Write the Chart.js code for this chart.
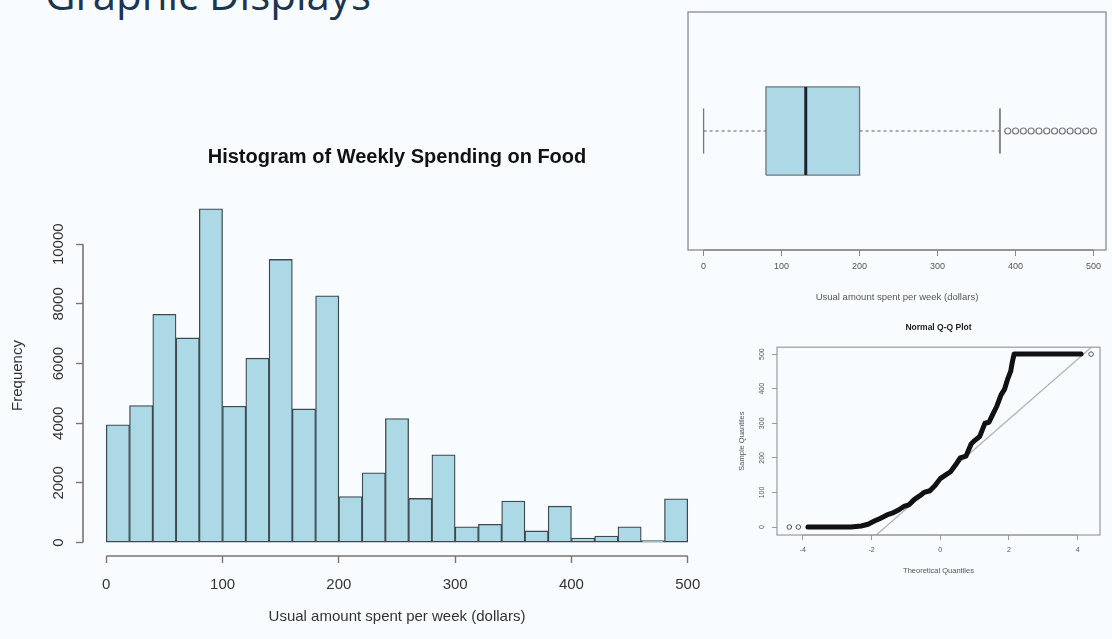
<!DOCTYPE html>
<html>
<head>
<meta charset="utf-8">
<title>Graphic Displays</title>
<script src="https://cdn.jsdelivr.net/npm/chart.js@4.4.0/dist/chart.umd.min.js"></script>
<style>
  html, body { margin: 0; padding: 0; }
  body { width: 1112px; height: 639px; overflow: hidden; position: relative; background: #f8fcfe; }
  .slide-title { position: absolute; left: 45px; top: -35px; font-family: "Open Sans", sans-serif; font-size: 42px; color: #1c3550; white-space: nowrap; }
  canvas { position: absolute; }
  #hist { left: 0; top: 140px; }
  #box { left: 680px; top: 0; }
  #qq { left: 720px; top: 318px; }
</style>
</head>
<body>
<div class="slide-title">Graphic Displays</div>
<canvas id="hist" width="720" height="499"></canvas>
<canvas id="box" width="432" height="310"></canvas>
<canvas id="qq" width="392" height="280"></canvas>
<script>
// histogram: 20-dollar bins
const binLows = [0, 20, 40, 60, 80, 100, 120, 140, 160, 180, 200, 220, 240, 260, 280, 300, 320, 340, 360, 380, 400, 420, 440, 460, 480];
const binWidth = 20;
const counts = [3950, 4590, 7650, 6860, 11190, 4570, 6180, 9490, 4480, 8270, 1540, 2340, 4160, 1480, 2940, 530, 610, 1390, 390, 1220, 150, 220, 530, 70, 1470];
const histXTicks = [0, 100, 200, 300, 400, 500];
const histYTicks = [0, 2000, 4000, 6000, 8000, 10000];

// boxplot: min, q1, median, q3, upper whisker
const boxFive = [0, 80, 131, 200, 380];
const boxOutliers = [390, 400, 410, 420, 430, 440, 450, 460, 470, 480, 490, 500];
const boxXTicks = [0, 100, 200, 300, 400, 500];

// normal q-q plot
const qqTheo = [-3.85, -3.2, -2.6, -2.3, -2.1, -1.9, -1.75, -1.55, -1.4, -1.2, -1.05, -0.9, -0.75, -0.6, -0.47, -0.3, -0.15, 0.0, 0.15, 0.3, 0.45, 0.58, 0.75, 0.9, 1.0, 1.15, 1.3, 1.42, 1.55, 1.65, 1.77, 1.87, 1.97, 2.05, 2.1, 2.15, 2.6, 3.2, 3.7, 4.1];
const qqSample = [0, 0, 0, 3, 8, 18, 25, 35, 40, 50, 60, 65, 80, 90, 100, 105, 120, 140, 150, 160, 180, 200, 205, 240, 250, 262, 300, 303, 330, 350, 382, 398, 430, 450, 478, 500, 500, 500, 500, 500];
const qqTailTheo = [-4.39, -4.13, 4.39];
const qqTailSample = [0, 0, 500];
const qqRefTheo = [-1.86, 4.4];
const qqRefSample = [-23, 520];
const qqXTicks = [-4, -2, 0, 2, 4];
const qqYTicks = [0, 100, 200, 300, 400, 500];

const rFont = '"Liberation Sans", Arial, sans-serif';

// R style axis lines (only between first and last tick) and optional box()
const rAxes = {
  id: 'rAxes',
  afterDraw(chart, args, opts) {
    const { ctx, chartArea: a, scales } = chart;
    ctx.save();
    ctx.strokeStyle = opts.color;
    ctx.lineWidth = opts.width;
    if (opts.frame) {
      ctx.strokeRect(a.left, a.top, a.right - a.left, a.bottom - a.top);
    }
    const x = scales.x;
    const xt = x.ticks;
    ctx.beginPath();
    ctx.moveTo(x.getPixelForValue(xt[0].value), a.bottom);
    ctx.lineTo(x.getPixelForValue(xt[xt.length - 1].value), a.bottom);
    if (opts.yLine) {
      const y = scales.y;
      const yt = y.ticks;
      ctx.moveTo(a.left, y.getPixelForValue(yt[0].value));
      ctx.lineTo(a.left, y.getPixelForValue(yt[yt.length - 1].value));
    }
    ctx.stroke();
    ctx.restore();
  }
};

// y tick labels turned 90 degrees, like R's default
const rotatedYLabels = {
  id: 'rotatedYLabels',
  afterDraw(chart, args, opts) {
    const y = chart.scales.y;
    const ctx = chart.ctx;
    ctx.save();
    ctx.font = opts.font;
    ctx.fillStyle = opts.color;
    ctx.textAlign = 'center';
    ctx.textBaseline = 'middle';
    y.ticks.forEach(t => {
      ctx.save();
      ctx.translate(chart.chartArea.left - opts.offset, y.getPixelForValue(t.value));
      ctx.rotate(-Math.PI / 2);
      ctx.fillText(String(t.value), 0, 0);
      ctx.restore();
    });
    ctx.restore();
  }
};

function setTicks(list) {
  return scale => { scale.ticks = list.map(v => ({ value: v })); };
}

new Chart(document.getElementById('hist'), {
  type: 'bar',
  data: {
    datasets: [{
      data: counts.map((c, i) => ({ x: binLows[i] + binWidth / 2, y: c })),
      backgroundColor: '#add8e6',
      borderColor: '#3c4a50',
      borderWidth: 1.3,
      borderSkipped: false,
      barPercentage: 1,
      categoryPercentage: 1
    }]
  },
  options: {
    responsive: false,
    animation: false,
    layout: { padding: { right: 9 } },
    plugins: {
      legend: { display: false },
      tooltip: { enabled: false },
      title: {
        display: true,
        text: 'Histogram of Weekly Spending on Food',
        fullSize: false,
        color: '#111',
        font: { family: rFont, size: 20, weight: 'bold' },
        padding: { top: 5, bottom: 26 }
      },
      rAxes: { color: '#7d7373', width: 1.6, yLine: true },
      rotatedYLabels: { font: '15px ' + rFont, color: '#333', offset: 24 }
    },
    scales: {
      x: {
        type: 'linear',
        offset: false,
        min: -20,
        max: 520,
        afterBuildTicks: setTicks(histXTicks),
        afterFit: s => { s.height = 83; },
        grid: { offset: false, drawOnChartArea: false, tickLength: 7, tickColor: '#7d7373', tickWidth: 1.4 },
        border: { display: false },
        ticks: { color: '#333', font: { family: rFont, size: 15 }, padding: 13, maxRotation: 0, autoSkip: false },
        title: { display: true, text: 'Usual amount spent per week (dollars)', color: '#333', font: { family: rFont, size: 15 }, padding: { bottom: 13 } }
      },
      y: {
        min: -450,
        max: 11650,
        afterBuildTicks: setTicks(histYTicks),
        afterFit: s => { s.width = 83; },
        grid: { drawOnChartArea: false, tickLength: 7, tickColor: '#7d7373', tickWidth: 1.4 },
        border: { display: false },
        ticks: { display: false },
        title: { display: true, text: 'Frequency', color: '#333', font: { family: rFont, size: 15 }, padding: { top: 9 } }
      }
    }
  },
  plugins: [rAxes, rotatedYLabels]
});

// boxplot drawn on a 0..2 vertical range, box centred at 1
// (chart.js paints dataset 0 on top, so the box fill comes last)
const boxMid = 1, boxHalf = 0.37, capHalf = 0.19;
const boxLine = { type: 'line', pointRadius: 0, fill: false };
new Chart(document.getElementById('box'), {
  type: 'scatter',
  data: {
    datasets: [
      { ...boxLine, data: [{ x: boxFive[2], y: boxMid - boxHalf }, { x: boxFive[2], y: boxMid + boxHalf }],
        borderColor: '#1b2428', borderWidth: 3 },
      { ...boxLine, data: [
          { x: boxFive[1], y: boxMid - boxHalf }, { x: boxFive[3], y: boxMid - boxHalf },
          { x: boxFive[3], y: boxMid + boxHalf }, { x: boxFive[1], y: boxMid + boxHalf },
          { x: boxFive[1], y: boxMid - boxHalf }],
        borderColor: '#6a777c', borderWidth: 1.3 },
      { ...boxLine, data: [{ x: boxFive[0], y: boxMid }, { x: boxFive[1], y: boxMid }],
        borderColor: '#777', borderWidth: 1.2, borderDash: [3, 3] },
      { ...boxLine, data: [{ x: boxFive[3], y: boxMid }, { x: boxFive[4], y: boxMid }],
        borderColor: '#777', borderWidth: 1.2, borderDash: [3, 3] },
      { ...boxLine, data: [{ x: boxFive[0], y: boxMid - capHalf }, { x: boxFive[0], y: boxMid + capHalf }],
        borderColor: '#777', borderWidth: 1.3 },
      { ...boxLine, data: [{ x: boxFive[4], y: boxMid - capHalf }, { x: boxFive[4], y: boxMid + capHalf }],
        borderColor: '#888', borderWidth: 2 },
      { type: 'scatter', data: boxOutliers.map(v => ({ x: v, y: boxMid })),
        pointRadius: 3, pointBackgroundColor: 'rgba(0,0,0,0)', pointBorderColor: '#777', pointBorderWidth: 1.2 },
      { ...boxLine, data: [{ x: boxFive[1], y: boxMid + boxHalf }, { x: boxFive[3], y: boxMid + boxHalf }],
        fill: { value: boxMid - boxHalf }, backgroundColor: '#add8e6', borderWidth: 0 }
    ]
  },
  options: {
    responsive: false,
    animation: false,
    layout: { padding: { left: 8, top: 12, right: 6 } },
    plugins: {
      legend: { display: false },
      tooltip: { enabled: false },
      rAxes: { color: '#8a8a8a', width: 1.3, frame: true }
    },
    scales: {
      x: {
        type: 'linear',
        min: -20,
        max: 516,
        afterBuildTicks: setTicks(boxXTicks),
        afterFit: s => { s.height = 60; },
        grid: { drawOnChartArea: false, tickLength: 6, tickColor: '#8a8a8a' },
        border: { display: false },
        ticks: { color: '#555', font: { family: rFont, size: 9 }, padding: 5, maxRotation: 0, autoSkip: false },
        title: { display: true, text: 'Usual amount spent per week (dollars)', color: '#555', font: { family: rFont, size: 9.5 }, padding: { bottom: 7 } }
      },
      y: { display: false, min: 0, max: 2 }
    }
  },
  plugins: [rAxes]
});

new Chart(document.getElementById('qq'), {
  type: 'scatter',
  data: {
    datasets: [
      { type: 'line', data: qqTheo.map((t, i) => ({ x: t, y: qqSample[i] })),
        borderColor: '#111', borderWidth: 5, borderJoinStyle: 'round', borderCapStyle: 'round', pointRadius: 0, fill: false },
      { type: 'scatter', data: qqTailTheo.map((t, i) => ({ x: t, y: qqTailSample[i] })),
        pointRadius: 2.3, pointBackgroundColor: 'rgba(0,0,0,0)', pointBorderColor: '#555', pointBorderWidth: 1 },
      { type: 'line', data: qqRefTheo.map((t, i) => ({ x: t, y: qqRefSample[i] })),
        borderColor: '#b4b4b4', borderWidth: 1.3, pointRadius: 0, fill: false }
    ]
  },
  options: {
    responsive: false,
    animation: false,
    layout: { padding: { right: 12 } },
    plugins: {
      legend: { display: false },
      tooltip: { enabled: false },
      title: {
        display: true,
        text: 'Normal Q-Q Plot',
        color: '#222',
        fullSize: false,
        font: { family: rFont, size: 8.5, weight: 'bold' },
        padding: { top: 5, bottom: 14 }
      },
      rAxes: { color: '#999', width: 1.2, frame: true },
      rotatedYLabels: { font: '7px ' + rFont, color: '#555', offset: 15 }
    },
    scales: {
      x: {
        type: 'linear',
        min: -4.75,
        max: 4.65,
        afterBuildTicks: setTicks(qqXTicks),
        afterFit: s => { s.height = 63; },
        grid: { drawOnChartArea: false, tickLength: 5, tickColor: '#999' },
        border: { display: false },
        ticks: { color: '#555', font: { family: rFont, size: 7 }, padding: 6, maxRotation: 0, autoSkip: false },
        title: { display: true, text: 'Theoretical Quantiles', color: '#555', font: { family: rFont, size: 7.5 }, padding: { bottom: 23 } }
      },
      y: {
        min: -23,
        max: 520,
        afterBuildTicks: setTicks(qqYTicks),
        afterFit: s => { s.width = 57; },
        grid: { drawOnChartArea: false, tickLength: 5, tickColor: '#999' },
        border: { display: false },
        ticks: { display: false },
        title: { display: true, text: 'Sample Quantiles', color: '#555', font: { family: rFont, size: 7.5 }, padding: { top: 17 } }
      }
    }
  },
  plugins: [rAxes, rotatedYLabels]
});
</script>
</body>
</html>
